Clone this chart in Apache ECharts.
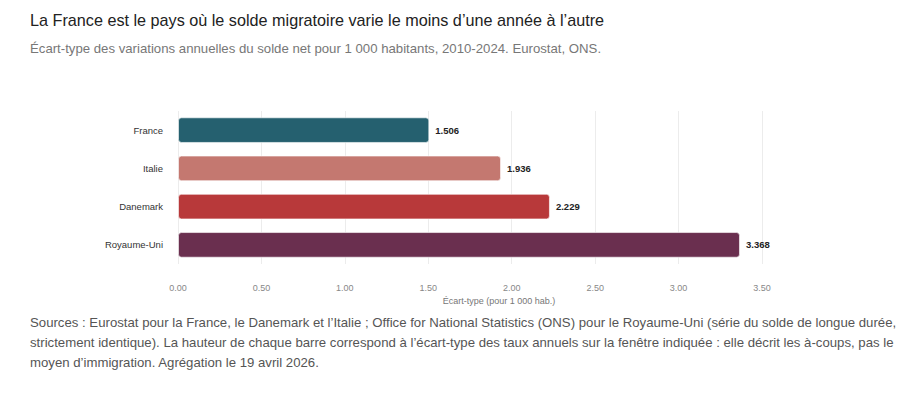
<!DOCTYPE html>
<html><head><meta charset="utf-8">
<script src="https://cdn.jsdelivr.net/npm/echarts@6/dist/echarts.min.js"></script>
<style>html,body{margin:0;padding:0;background:#fff}#c{width:900px;height:395px}</style>
</head><body><div id="c"></div>
<script>
const categories = ['France', 'Italie', 'Danemark', 'Royaume-Uni'];
const values = [1.506, 1.936, 2.229, 3.368];
const barColors = ['#25606f', '#c47870', '#b8393a', '#6a2f4f'];
const titleText = "La France est le pays où le solde migratoire varie le moins d’une année à l’autre";
const subtitleText = "Écart-type des variations annuelles du solde net pour 1 000 habitants, 2010-2024. Eurostat, ONS.";
const axisName = "Écart-type (pour 1 000 hab.)";
const footerLines = [
  "Sources : Eurostat pour la France, le Danemark et l’Italie ; Office for National Statistics (ONS) pour le Royaume-Uni (série du solde de longue durée,",
  "strictement identique). La hauteur de chaque barre correspond à l’écart-type des taux annuels sur la fenêtre indiquée : elle décrit les à-coups, pas le",
  "moyen d’immigration. Agrégation le 19 avril 2026."
];
const font = '"Liberation Sans", Arial, Helvetica, sans-serif';
const chart = echarts.init(document.getElementById('c'), null, {renderer: 'svg'});
chart.setOption({
  animation: false,
  textStyle: {fontFamily: font},
  title: [
    {text: titleText, left: 30, top: 12, padding: 0, textStyle: {fontSize: 16.2, fontWeight: 'normal', color: '#222', fontFamily: font}},
    {text: subtitleText, left: 30, top: 42, padding: 0, textStyle: {fontSize: 13.2, fontWeight: 'normal', color: '#777', fontFamily: font}}
  ],
  graphic: footerLines.map((t, i) => ({
    type: 'text', left: 30, top: 316 + i * 20,
    style: {text: t, fontSize: 13.2, fill: '#555', fontFamily: font}
  })),
  grid: {left: 178, top: 111, width: 584, height: 153, containLabel: false},
  xAxis: {
    type: 'value', min: 0, max: 3.5, interval: 0.5,
    name: axisName, nameLocation: 'middle', nameGap: 32,
    nameTextStyle: {fontSize: 9, color: '#777', padding: [0, 0, 0, 58]},
    axisLine: {show: false}, axisTick: {show: false},
    axisLabel: {fontSize: 9, color: '#888', margin: 19, formatter: v => v.toFixed(2)},
    splitLine: {lineStyle: {color: '#ececec', width: 1}}
  },
  yAxis: {
    type: 'category', data: categories, inverse: true,
    axisLine: {show: false}, axisTick: {show: false},
    axisLabel: {fontSize: 9.5, color: '#333', margin: 15}
  },
  series: [{
    type: 'bar', barCategoryGap: '33%',
    data: values.map((v, i) => ({value: v, itemStyle: {color: barColors[i]}})),
    itemStyle: {borderRadius: 3, borderColor: 'rgba(255,255,255,0.6)', borderWidth: 1},
    label: {show: true, position: 'right', distance: 6, fontSize: 9.5, fontWeight: 'bold', color: '#222', formatter: p => p.value.toFixed(3)}
  }]
});
</script></body></html>
